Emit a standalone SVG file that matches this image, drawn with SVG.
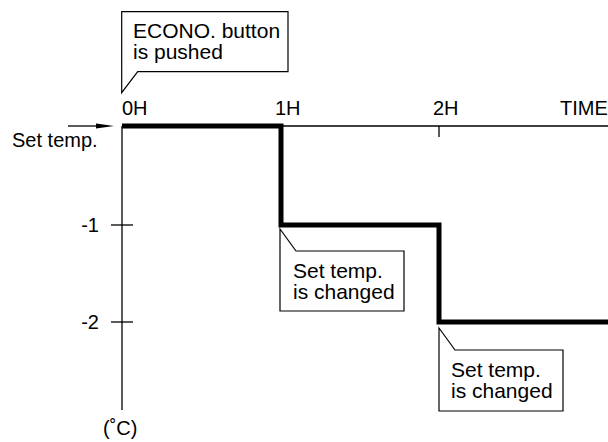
<svg xmlns="http://www.w3.org/2000/svg" width="608" height="442" viewBox="0 0 608 442">
<style>
text{font-family:"Liberation Sans",Arial,sans-serif;font-size:20px;fill:#000}
.call{font-size:21px}
.thin{stroke:#000;stroke-width:1.3;fill:none}
.box{stroke:#000;stroke-width:1.2;fill:#fff}
.step{stroke:#000;stroke-width:5;fill:none;stroke-linejoin:miter}
</style>
<rect width="608" height="442" fill="#fff"/>
<g id="axes">
<line class="thin" x1="122" y1="126" x2="608" y2="126"/>
<line class="thin" x1="122" y1="126" x2="122" y2="410"/>
<line class="thin" x1="111" y1="225" x2="133" y2="225"/>
<line class="thin" x1="111" y1="322" x2="133" y2="322"/>
<line class="thin" x1="439" y1="126" x2="439" y2="137"/>
</g>
<g id="connectors">
<line class="thin" x1="68" y1="126" x2="100" y2="126"/>
<polygon points="96,123.5 114,126 96,128.5" fill="#000"/>
<path class="step" d="M122,126 H281 V225 H439 V322 H608"/>
</g>
<g id="axis-labels">
<text x="122" y="115">0H</text>
<text x="275" y="115">1H</text>
<text x="433" y="115">2H</text>
<text x="560" y="115">TIME</text>
<text x="12" y="147">Set temp.</text>
<text x="99" y="232" text-anchor="end">-1</text>
<text x="99" y="329" text-anchor="end">-2</text>
<text x="103" y="435">(˚C)</text>
</g>
<g id="callout-econo">
<path class="box" d="M121.7,92.7 L121.7,11.7 L288,11.7 L288,71.7 L137.7,71.7 Z"/>
<text class="call" x="133" y="38">ECONO. button</text>
<text class="call" x="133" y="59">is pushed</text>
</g>
<g id="callout-change1">
<path class="box" d="M280,229 L296,251 L404,251 L404,311 L280,311 Z"/>
<text class="call" x="293" y="278">Set temp.</text>
<text class="call" x="293" y="299">is changed</text>
</g>
<g id="callout-change2">
<path class="box" d="M439,328 L455,350 L563,350 L563,411 L439,411 Z"/>
<text class="call" x="451" y="377">Set temp.</text>
<text class="call" x="451" y="398">is changed</text>
</g>
</svg>
